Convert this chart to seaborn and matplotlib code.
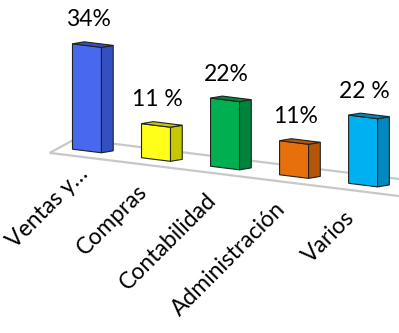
import numpy as np
import matplotlib
matplotlib.use("Agg")
import matplotlib.pyplot as plt
from matplotlib.transforms import Affine2D, offset_copy
from matplotlib.patches import Polygon
import seaborn as sns

categories = ["Ventas y…", "Compras", "Contabilidad", "Administración", "Varios"]
values = [34, 11, 22, 11, 22]
value_labels = ["34%", "11 %", "22%", "11%", "22 %"]
front_colors = ["#4868f0", "#ffff1a", "#00b050", "#e8700c", "#00b0f0"]
side_colors = ["#3450c0", "#c8c800", "#00843c", "#b4560a", "#0088c0"]

sns.set_style("white")
plt.rcParams["font.family"] = ["Lato", "DejaVu Sans"]

fig = plt.figure(figsize=(3.99, 3.33), dpi=100)
ax = fig.add_axes([0, 0, 1, 1])

sns.barplot(x=categories, y=values, hue=categories, palette=front_colors,
            width=0.42, legend=False, ax=ax, edgecolor="#222222", linewidth=0.8,
            saturation=1)

k = 2.75  # perspective slant of the floor
skew = Affine2D(np.array([[1, 0, 0], [-k, 1, 0], [0, 0, 1]], dtype=float))
tr = skew + ax.transData

# floor
floor = Polygon([(-0.54, -2.1), (-0.17, 3.4), (5.2, 3.4), (5.2 - 0.37, -2.1)],
                closed=True, facecolor="white", edgecolor="#c8c8c8",
                linewidth=1.6, transform=tr, zorder=0)
ax.add_patch(floor)

d, e = 0.17, 1.1
for p, sc, lab in zip(ax.patches[:len(values)], side_colors, value_labels):
    p.set_transform(tr)
    p.set_zorder(2)
    x0 = p.get_x()
    x1 = x0 + p.get_width()
    y0 = p.get_y()
    h = p.get_height()
    side = Polygon([(x1, y0), (x1 + d, y0 + e), (x1 + d, y0 + h + e), (x1, y0 + h)],
                   closed=True, facecolor=sc, edgecolor="#222222", linewidth=0.8,
                   transform=tr, zorder=2)
    top = Polygon([(x0, y0 + h), (x0 + d, y0 + h + e), (x1 + d, y0 + h + e), (x1, y0 + h)],
                  closed=True, facecolor=sc, edgecolor="#222222", linewidth=0.8,
                  transform=tr, zorder=2)
    ax.add_patch(side)
    ax.add_patch(top)
    ax.text((x0 + x1) / 2 + 0.02, y0 + h + 5.0, lab, ha="center", va="bottom",
            fontsize=16.5, color="black", transform=tr, zorder=3)

ax.set_xlim(-1.26, 4.52)
ax.set_ylim(-58.7, 48.7)
ax.axis("off")

labels = []
for i, c in enumerate(categories):
    t = ax.text(i - 0.28, -7.7, c, ha="right", va="top", rotation=45,
                rotation_mode="anchor", fontsize=16.5, color="black",
                transform=tr, zorder=3)
    labels.append(t)

# keep every rotated label inside the figure
fig.canvas.draw()
renderer = fig.canvas.get_renderer()
for t in labels:
    bb = t.get_window_extent(renderer)
    if bb.x0 < 3:
        dx = 3 - bb.x0
        t.set_transform(offset_copy(tr, fig=fig, x=dx, y=dx, units="dots"))

fig.savefig("out.png", dpi=100)
